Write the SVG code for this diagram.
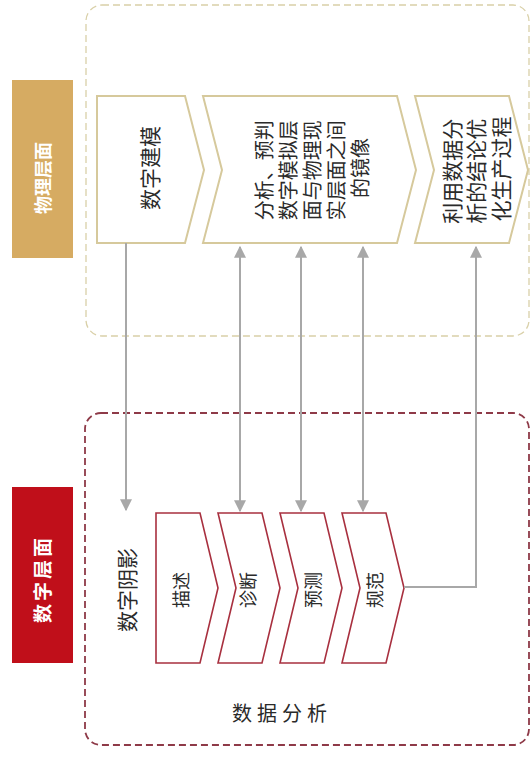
<svg xmlns="http://www.w3.org/2000/svg" width="532" height="758" viewBox="0 0 532 758">
<style>
text{font-family:"Noto Sans CJK SC","Noto Sans",sans-serif;fill:#2a2a2a}
.t{font-size:20px;text-anchor:middle;dominant-baseline:central}
.lbl{font-size:18px;font-weight:bold;fill:#fff;text-anchor:middle;dominant-baseline:central}
.pc{fill:#fff;stroke:#d6c99c;stroke-width:2}
.dc{fill:#fff;stroke:#a8303f;stroke-width:1.6}
.ln{fill:none;stroke:#a8a8a8;stroke-width:2}
</style>
<defs>
<marker id="ah" viewBox="0 0 10 10" refX="9" refY="5" markerWidth="6" markerHeight="6" orient="auto-start-reverse" markerUnits="strokeWidth">
<path d="M0,0 L10,5 L0,10 z" fill="#a8a8a8"/>
</marker>
</defs>
<rect width="532" height="758" fill="#fff"/>
<g id="physical-layer">
<rect x="86" y="5" width="443" height="331" rx="16" fill="none" stroke="#d9d0a8" stroke-width="1.3" stroke-dasharray="7 4"/>
</g>
<g id="digital-layer">
<rect x="85" y="413" width="444" height="332" rx="16" fill="none" stroke="#8e3a48" stroke-width="1.8" stroke-dasharray="7 4"/>
</g>
<g id="label-physical">
<rect x="12" y="80" width="61" height="178" fill="#d6ab62"/>
<text class="lbl" transform="translate(42,178) rotate(-90)">物理层面</text>
</g>
<g id="label-digital">
<rect x="12" y="487" width="61" height="176" fill="#c00f1a"/>
<text class="lbl" transform="translate(41,579) rotate(-90)" style="font-size:19px;letter-spacing:3px">数字层面</text>
</g>
<g id="p1">
<polygon class="pc" points="97,96 185,96 204,170 185,243 97,243"/>
<text class="t" transform="translate(149,168) rotate(-90)" style="font-size:21px">数字建模</text>
</g>
<g id="p2">
<polygon class="pc" points="203,96 397,96 416,170 397,243 203,243 222,170"/>
<text class="t" transform="translate(311,168) rotate(-90)">
<tspan x="0" y="-48">分析、预判</tspan>
<tspan x="0" y="-24">数字模拟层</tspan>
<tspan x="0" y="0">面与物理现</tspan>
<tspan x="0" y="24">实层面之间</tspan>
<tspan x="0" y="48">的镜像</tspan>
</text>
</g>
<g id="p3">
<polygon class="pc" points="415,96 509,96 528,170 509,243 415,243 434,170"/>
<text class="t" transform="translate(475,169) rotate(-90)" style="font-size:21px">
<tspan x="0" y="-24.5">利用数据分</tspan>
<tspan x="0" y="0">析的结论优</tspan>
<tspan x="0" y="24.5">化生产过程</tspan>
</text>
</g>
<g id="shadow-label">
<text class="t" transform="translate(126,590) rotate(-90)" style="font-size:21px">数字阴影</text>
</g>
<g id="d1">
<polygon class="dc" points="156,513 200,513 218,588 200,663 156,663"/>
<text class="t" transform="translate(180,590) rotate(-90)" style="font-size:18px">描述</text>
</g>
<g id="d2">
<polygon class="dc" points="218,513 262,513 280,588 262,663 218,663 236,588"/>
<text class="t" transform="translate(247,590) rotate(-90)" style="font-size:18px">诊断</text>
</g>
<g id="d3">
<polygon class="dc" points="280,513 324,513 342,588 324,663 280,663 298,588"/>
<text class="t" transform="translate(312,590) rotate(-90)" style="font-size:18px">预测</text>
</g>
<g id="d4">
<polygon class="dc" points="342,513 386,513 404,588 386,663 342,663 360,588"/>
<text class="t" transform="translate(374,590) rotate(-90)" style="font-size:18px">规范</text>
</g>
<g id="analysis-label">
<text x="282" y="712" style="font-size:20px;letter-spacing:5px;text-anchor:middle;dominant-baseline:central">数据分析</text>
</g>
<g id="connectors">
<line class="ln" x1="126" y1="243" x2="126" y2="510" marker-end="url(#ah)"/>
<line class="ln" x1="240" y1="247" x2="240" y2="511" marker-start="url(#ah)" marker-end="url(#ah)"/>
<line class="ln" x1="301" y1="247" x2="301" y2="511" marker-start="url(#ah)" marker-end="url(#ah)"/>
<line class="ln" x1="363" y1="247" x2="363" y2="511" marker-start="url(#ah)" marker-end="url(#ah)"/>
<polyline class="ln" points="404,587 476,587 476,247" marker-end="url(#ah)"/>
</g>
</svg>
